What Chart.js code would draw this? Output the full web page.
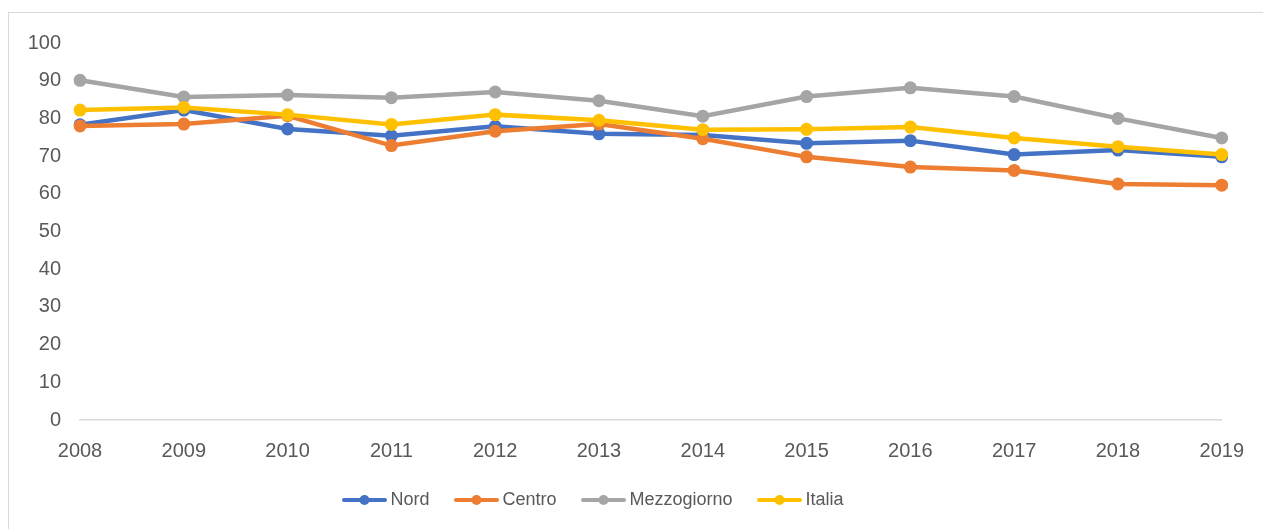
<!DOCTYPE html>
<html>
<head>
<meta charset="utf-8">
<script src="https://cdn.jsdelivr.net/npm/chart.js@4/dist/chart.umd.min.js"></script>
<style>
  html, body { margin: 0; padding: 0; background: #ffffff; overflow: hidden; }
  #frame { position: absolute; left: 8px; top: 12px; width: 1400px; height: 700px; border: 1px solid #d9d9d9; box-sizing: border-box; }
  #wrap { position: absolute; left: 0; top: 0; width: 1263px; height: 529px; }
</style>
</head>
<body>
<div id="frame"></div>
<div id="wrap"><canvas id="c" width="1263" height="529"></canvas></div>
<script>
const years = ['2008','2009','2010','2011','2012','2013','2014','2015','2016','2017','2018','2019'];
const nord        = [78.3, 82.2, 77.2, 75.4, 77.9, 75.9, 75.6, 73.4, 74.1, 70.4, 71.6, 69.8];
const centro      = [78.0, 78.5, 80.7, 72.8, 76.6, 78.5, 74.6, 69.8, 67.1, 66.2, 62.6, 62.3];
const mezzogiorno = [90.1, 85.7, 86.2, 85.5, 87.0, 84.7, 80.6, 85.8, 88.1, 85.8, 80.0, 74.8];
const italia      = [82.2, 82.9, 81.0, 78.4, 81.0, 79.5, 77.0, 77.1, 77.7, 74.8, 72.5, 70.4];
const seriesNames = ['Nord', 'Centro', 'Mezzogiorno', 'Italia'];
const colors = ['#4472C4', '#ED7D31', '#A5A5A5', '#FFC000'];

const FONT = '"Liberation Sans", Arial, sans-serif';
const TEXT = '#595959';

function legendIcon(color) {
  const cv = document.createElement('canvas');
  cv.width = 65; cv.height = 14;
  const g = cv.getContext('2d');
  g.strokeStyle = color; g.lineWidth = 4; g.lineCap = 'round';
  g.beginPath(); g.moveTo(22, 7); g.lineTo(63, 7); g.stroke();
  g.fillStyle = color;
  g.beginPath(); g.arc(42.5, 7, 5, 0, Math.PI * 2); g.fill();
  return cv;
}
const icons = colors.map(legendIcon);

function ds(i, data, order) {
  return {
    label: seriesNames[i], data: data,
    borderColor: colors[i], backgroundColor: colors[i],
    borderWidth: 4.5, pointRadius: 6.5, pointHoverRadius: 6.5,
    pointBackgroundColor: colors[i], pointBorderColor: colors[i], pointBorderWidth: 0,
    tension: 0, order: order
  };
}

const shiftLegend = {
  id: 'shiftLegend',
  afterLayout(chart) { if (chart.legend) { chart.legend.right -= 52; } }
};

new Chart(document.getElementById('c'), {
  type: 'line',
  data: {
    labels: years,
    datasets: [ds(0, nord, 3), ds(1, centro, 2), ds(2, mezzogiorno, 1), ds(3, italia, 0)]
  },
  plugins: [shiftLegend],
  options: {
    responsive: false,
    animation: false,
    layout: { padding: { top: 43, right: 40, bottom: 10, left: 0 } },
    plugins: {
      tooltip: { enabled: false },
      legend: {
        position: 'bottom',
        labels: {
          usePointStyle: true,
          pointStyleWidth: 54,
          padding: 10,
          color: TEXT,
          font: { family: FONT, size: 18 },
          generateLabels(chart) {
            const items = Chart.defaults.plugins.legend.labels.generateLabels(chart);
            items.forEach(it => { it.pointStyle = icons[it.datasetIndex]; });
            items.sort((a, b) => a.datasetIndex - b.datasetIndex);
            return items;
          }
        }
      }
    },
    scales: {
      x: {
        offset: false,
        grid: { display: false, drawTicks: false },
        border: { display: true, color: '#d9d9d9', width: 1.5 },
        ticks: { color: TEXT, font: { family: FONT, size: 20 }, padding: 19, maxRotation: 0, autoSkip: false },
        afterFit(s) { s.height = 61; }
      },
      y: {
        min: 0, max: 100,
        grid: { display: false, drawTicks: false },
        border: { display: false },
        ticks: { stepSize: 10, color: TEXT, font: { family: FONT, size: 20 }, padding: 19 },
        afterFit(s) { s.width = 80; }
      }
    }
  }
});
</script>
</body>
</html>
